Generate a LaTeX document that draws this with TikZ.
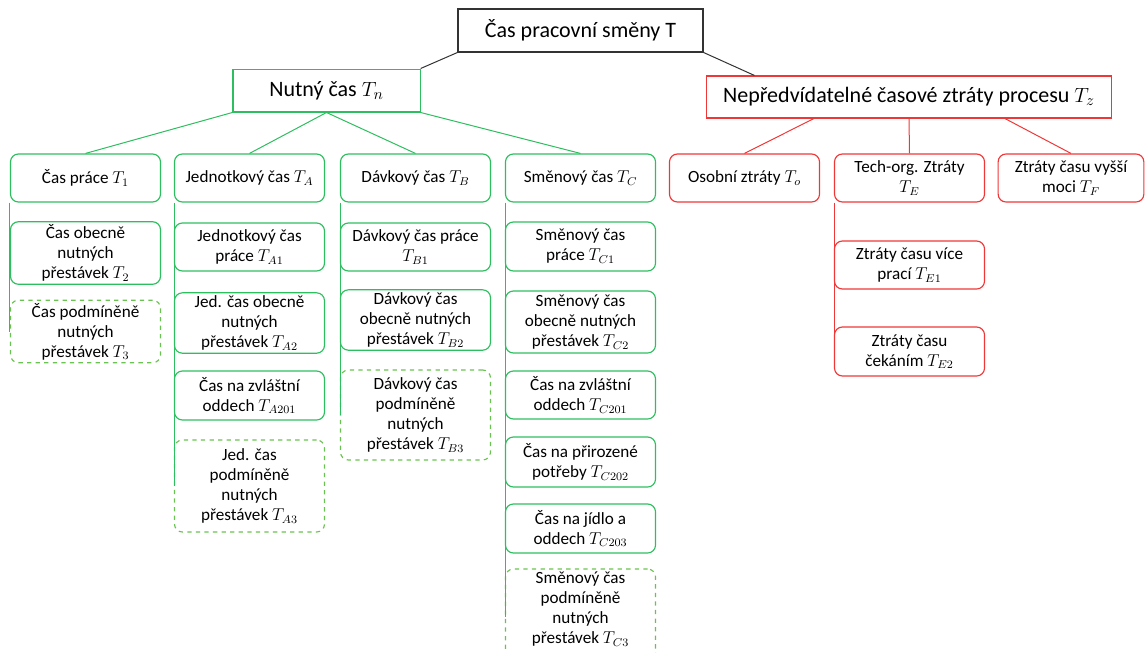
\documentclass[tikz,border=0pt]{standalone}
\usepackage{fontspec}
\setmainfont{Carlito}
\usepackage{xcolor}
\usepackage{tikz}
\usetikzlibrary{calc}
\definecolor{boxgreen}{RGB}{45,190,95}
\definecolor{dashgreen}{RGB}{105,195,80}
\definecolor{boxred}{RGB}{240,55,55}
\tikzset{
    box/.style = {
        draw,
        align          = center,
        inner sep      = 2pt,
        line width     = 0.8pt,
        font           = \fontsize{12}{14}\selectfont,
        minimum width  = 105pt,
        minimum height = 33.6pt,
    },
    gbox/.style  = {box, draw = boxgreen, rounded corners = 5.5pt},
    gdash/.style = {box, draw = dashgreen, dashed, rounded corners = 5.5pt},
    rbox/.style  = {box, draw = boxred, rounded corners = 5.5pt},
    head/.style  = {box, rounded corners = 0pt, font = \fontsize{15.4}{18}\selectfont, minimum height = 30pt},
    link/.style  = {line width = 0.7pt},
}

\begin{document}
\begin{tikzpicture}[x = 0.7pt, y = -0.7pt]
        \useasboundingbox (0, 0) rectangle (1146, 653);

        \node at (580.5, 30.5) (T) [head, draw = black!80, minimum width = 171.5pt] {Čas pracovní směny T};
        \node at (326.5, 90.5) (Tn) [head, draw = boxgreen, minimum width = 131pt] {Nutný čas $T_n$};
        \node at (909, 97) (Tz) [head, draw = boxred, minimum width = 284pt, minimum height = 29.4pt] {Nepředvídatelné časové ztráty procesu $T_z$};

        % first column
        \node at (85.5, 178) (t1) [gbox] {Čas práce $T_1$};
        \node at (85.5, 253) (t2) [gbox, minimum height = 42pt] {Čas obecně\\nutných\\přestávek $T_2$};
        \node at (85.5, 331.5) (t3) [gdash, minimum height = 42.7pt] {Čas podmíněně\\nutných\\přestávek $T_3$};

        % second column
        \node at (249.5, 178) (ta) [gbox] {Jednotkový čas $T_A$};
        \node at (249.5, 247) (ta1) [gbox] {Jednotkový čas\\práce $T_{A1}$};
        \node at (249.5, 323) (ta2) [gbox, minimum height = 42pt] {Jed. čas obecně\\nutných\\přestávek $T_{A2}$};
        \node at (249.5, 395.5) (ta201) [gbox, minimum height = 34.3pt] {Čas na zvláštní\\oddech $T_{A201}$};
        \node at (249.5, 486) (ta3) [gdash, minimum height = 64.4pt] {Jed. čas\\podmíněně\\nutných\\přestávek $T_{A3}$};

        % third column
        \node at (415.5, 178) (tb) [gbox] {Dávkový čas $T_B$};
        \node at (415.5, 247) (tb1) [gbox] {Dávkový čas práce\\$T_{B1}$};
        \node at (415.5, 320) (tb2) [gbox, minimum height = 42pt] {Dávkový čas\\obecně nutných\\přestávek $T_{B2}$};
        \node at (415.5, 415) (tb3) [gdash, minimum height = 63pt] {Dávkový čas\\podmíněně\\nutných\\přestávek $T_{B3}$};

        % fourth column
        \node at (580.5, 178) (tc) [gbox] {Směnový čas $T_C$};
        \node at (580.5, 246.5) (tc1) [gbox, minimum height = 34.3pt] {Směnový čas\\práce $T_{C1}$};
        \node at (580.5, 322) (tc2) [gbox, minimum height = 43.4pt] {Směnový čas\\obecně nutných\\přestávek $T_{C2}$};
        \node at (580.5, 395) (tc201) [gbox] {Čas na zvláštní\\oddech $T_{C201}$};
        \node at (580.5, 462) (tc202) [gbox, minimum height = 35pt] {Čas na přirozené\\potřeby $T_{C202}$};
        \node at (580.5, 528.5) (tc203) [gbox, minimum height = 34.3pt] {Čas na jídlo a\\oddech $T_{C203}$};
        \node at (580.5, 617) (tc3) [gdash, minimum height = 63pt, text depth = 13pt] {Směnový čas\\podmíněně\\nutných\\přestávek $T_{C3}$};

        % losses
        \node at (744.5, 178) (to) [rbox] {Osobní ztráty $T_o$};
        \node at (909.5, 178) (te) [rbox] {Tech-org. Ztráty\\$T_E$};
        \node at (1071, 178) (tf) [rbox, minimum width = 102pt] {Ztráty času vyšší\\moci $T_F$};
        \node at (909.5, 265) (te1) [rbox] {Ztráty času více\\prací $T_{E1}$};
        \node at (909.5, 351.5) (te2) [rbox, minimum height = 34.3pt] {Ztráty času\\čekáním $T_{E2}$};

        \draw [link, black!80] (T.south west) -- (Tn.north east);
        \draw [link, black!80] (T.south east) -- ($(Tz.north west)!0.12!(Tz.north east)$);

        \draw [link, boxgreen] (Tn.south west) -- (t1.north);
        \draw [link, boxgreen] (Tn.south) -- (ta.north);
        \draw [link, boxgreen] (Tn.south) -- (tb.north);
        \draw [link, boxgreen] (Tn.south east) -- (tc.north);

        \draw [boxgreen, line width = 0.6pt] (t1.south west) -- (t3.west);
        \draw [boxgreen, line width = 0.6pt] (ta.south west) -- (ta3.west);
        \draw [boxgreen, line width = 0.6pt] (tb.south west) -- (tb3.west);
        \draw [boxgreen, line width = 0.6pt] (tc.south west) -- (tc3.west);

        \draw [link, boxred] ($(Tz.south west)!0.266!(Tz.south east)$) -- (to.north);
        \draw [link, boxred] (Tz.south) -- (te.north);
        \draw [link, boxred] ($(Tz.south west)!0.736!(Tz.south east)$) -- (tf.north);
        \draw [boxred, line width = 0.6pt] (te.south west) -- (te2.west);

    \end{tikzpicture}
\end{document}
